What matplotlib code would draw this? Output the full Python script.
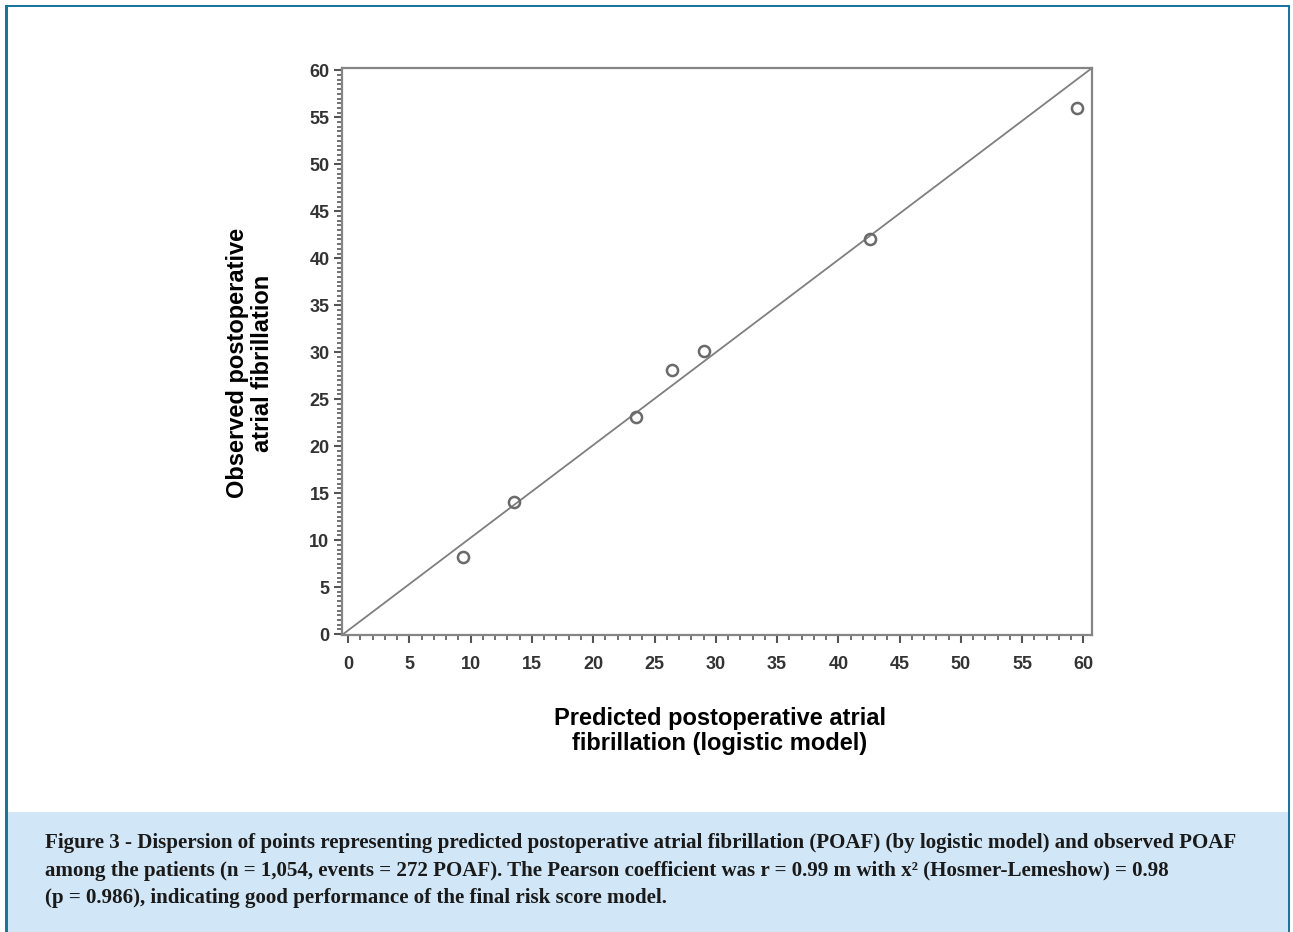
import matplotlib
matplotlib.use("Agg")
import matplotlib.pyplot as plt
from matplotlib.patches import Rectangle
from matplotlib.ticker import MultipleLocator

# Data
predicted = [9.4, 13.5, 23.5, 26.4, 29.0, 42.6, 59.5]
observed = [8.2, 14.1, 23.1, 28.1, 30.1, 42.0, 56.0]
x_ticks = list(range(0, 61, 5))
y_ticks = list(range(0, 61, 5))
x_label = "Predicted postoperative atrial\nfibrillation (logistic model)"
y_label = "Observed postoperative\natrial fibrillation"
caption_lines = [
    "Figure 3 - Dispersion of points representing predicted postoperative atrial fibrillation (POAF) (by logistic model) and observed POAF",
    "among the patients (n = 1,054, events = 272 POAF). The Pearson coefficient was r = 0.99 m with x\u00b2 (Hosmer-Lemeshow) = 0.98",
    "(p = 0.986), indicating good performance of the final risk score model.",
]

W, H = 1293, 932
fig = plt.figure(figsize=(W / 100, H / 100), dpi=100)

# caption box and border
fig.patches.append(Rectangle((7 / W, 0), (1288 - 7) / W, (932 - 812) / H,
                             transform=fig.transFigure, facecolor="#d1e6f6", edgecolor="none", zorder=0))
blue = "#1a73a0"
fig.patches.append(Rectangle((5 / W, 0), 2.5 / W, (932 - 5) / H, transform=fig.transFigure,
                             facecolor=blue, edgecolor="none", zorder=1))
fig.patches.append(Rectangle((1287.5 / W, 0), 2.5 / W, (932 - 5) / H, transform=fig.transFigure,
                             facecolor=blue, edgecolor="none", zorder=1))
fig.patches.append(Rectangle((5 / W, 1 - 7 / H), (1290 - 5) / W, 2.5 / H, transform=fig.transFigure,
                             facecolor=blue, edgecolor="none", zorder=1))

ax = fig.add_axes([342 / W, 1 - 635 / H, (1092 - 342) / W, (635 - 68) / H])
xlim = (-0.5, 60.7)
ylim = (-0.1, 60.25)
ax.set_xlim(*xlim)
ax.set_ylim(*ylim)

ax.plot(list(xlim), list(ylim), color="#7f7f7f", lw=1.3, zorder=2)
ax.plot(predicted, observed, linestyle="none", marker="o", markersize=8,
        markerfacecolor="none", markeredgecolor="#6a6a6a", markeredgewidth=1.8, zorder=3)

ax.set_xticks(x_ticks)
ax.set_yticks(y_ticks)
ax.xaxis.set_minor_locator(MultipleLocator(1))
ax.yaxis.set_minor_locator(MultipleLocator(0.5))
for s in ax.spines.values():
    s.set_color("#858585")
    s.set_linewidth(1.6)
ax.tick_params(which="major", direction="out", length=6, width=1.5, color="#555555",
               labelsize=13, labelcolor="#333333")
ax.tick_params(axis="x", which="major", pad=9)
ax.tick_params(axis="y", which="major", pad=3)
ax.tick_params(which="minor", direction="out", length=3.5, width=1.3, color="#666666")
for lbl in ax.get_xticklabels() + ax.get_yticklabels():
    lbl.set_fontweight("bold")
    lbl.set_family("Liberation Sans")

fig.text(720 / W, 1 - 731 / H, x_label, ha="center", va="center", fontsize=17,
         fontweight="bold", family="Liberation Sans", linespacing=1.15)
fig.text(250 / W, 1 - 363 / H, y_label, ha="center", va="center", rotation=90, fontsize=17,
         fontweight="bold", family="Liberation Sans", linespacing=1.15)

# caption, fitted so the first line spans the reference width
fs = 12.0
target_w = 1233 - 45
renderer = fig.canvas.get_renderer()
probe = fig.text(0, 0, caption_lines[0], fontsize=fs, fontweight="bold", family="Liberation Serif")
w = probe.get_window_extent(renderer).width
probe.remove()
fs = fs * target_w / w
for line, yy in zip(caption_lines, [843, 871, 898]):
    fig.text(45 / W, 1 - yy / H, line, ha="left", va="center", fontsize=fs,
             fontweight="bold", family="Liberation Serif", color="#1a1a1a")

fig.savefig("out.png", dpi=100)
